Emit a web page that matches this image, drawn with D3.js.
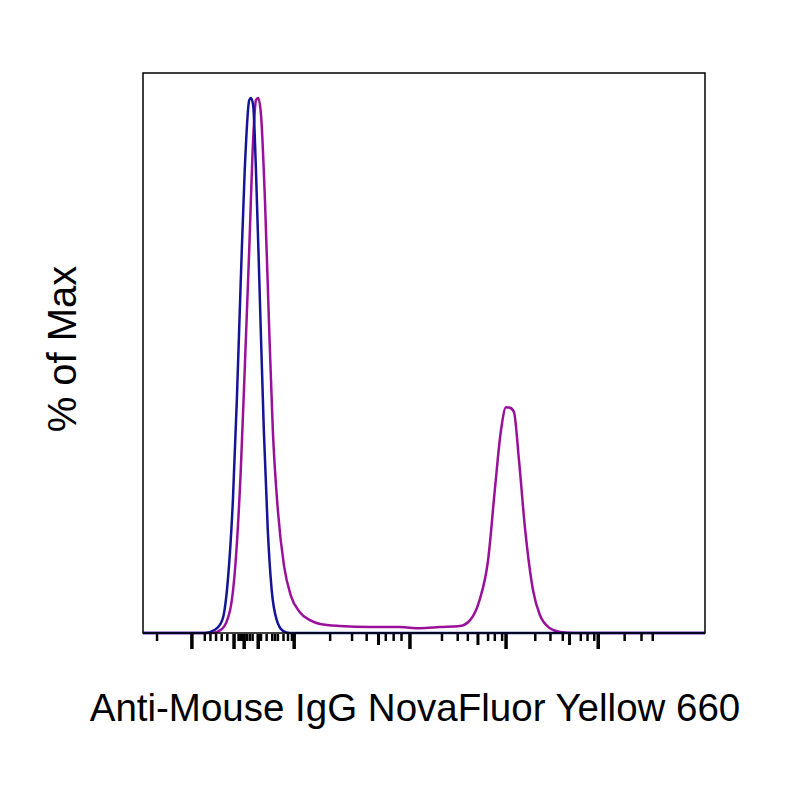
<!DOCTYPE html>
<html><head><meta charset="utf-8">
<script src="https://cdn.jsdelivr.net/npm/d3@7"></script>
<style>body{margin:0;background:#fff}</style>
</head><body><svg id="c" width="800" height="800"></svg>
<script>
// channel units 0..1000, y in % of max
const isotypeX = [0,110,128,141,151,160,167,174,181,189,192,196,201,208,215,222,229,238,249,261,1000];
const isotypeY = [0,0,0.6,2.4,9.9,24.9,43.6,66,86.5,99.6,100,98.7,86.5,62.2,37.9,19.3,8,2.4,0.4,0,0];
const stainedX = [0,123,140,155,165,174,181,189,196,201,205,210,217,224,231,240,251,263,279,297,315,350,404,457,493,528,564,582,599,614,626,637,646,653,660,669,680,694,706,724,742,768,1000];
const stainedY = [0,0,0.7,4.3,13.6,30.5,49.2,71.6,92.2,99.6,100,96.8,80.9,58.5,37.9,22.9,12.5,7,3.9,2.4,1.7,1.3,1.1,1.1,0.9,1.1,1.3,2.4,6.2,13.6,26.7,37.9,42.2,42.1,41.3,32.3,19.3,8,3.4,0.9,0.2,0,0];
const majorTicks = [87,162,180,205,269,475,646,810];
const midTicks = [419,596,759];
const minorTicks = [25,110,120,130,140,150,170,173,176,185,190,195,210,220,230,235,240,250,258,265,333,372,398,432,446,460,532,560,578,614,626,639,698,725,747,779,791,803,857,887,907];

const svg = d3.select('#c');
const x = d3.scaleLinear().domain([0, 1000]).range([143, 705]);
const y = d3.scaleLinear().domain([0, 100]).range([633, 98]);

const line = d3.line().curve(d3.curveMonotoneX).x(d => x(d[0])).y(d => y(d[1]));
const mk = (xs, ys) => xs.map((v, i) => [v, ys[i]]);

svg.append('path').datum(mk(stainedX, stainedY)).attr('d', line)
  .attr('fill', 'none').attr('stroke', '#9b109b').attr('stroke-width', 2.5);
svg.append('path').datum(mk(isotypeX, isotypeY)).attr('d', line)
  .attr('fill', 'none').attr('stroke', '#141496').attr('stroke-width', 2.5);

svg.append('rect').attr('x', 143).attr('y', 73).attr('width', 562).attr('height', 560)
  .attr('fill', 'none').attr('stroke', '#000').attr('stroke-width', 1.5);

const tick = (arr, len, w) => svg.append('g').selectAll('line').data(arr).join('line')
  .attr('x1', d => x(d)).attr('x2', d => x(d))
  .attr('y1', 634).attr('y2', 634 + len)
  .attr('stroke', '#000').attr('stroke-width', w);
tick(majorTicks, 15, 3.5);
tick(midTicks, 11, 3);
tick(minorTicks, 7, 2.5);

svg.append('text').attr('x', 415).attr('y', 721).attr('text-anchor', 'middle')
  .attr('font-family', 'Liberation Sans, Arial').attr('font-size', 38.5)
  .text('Anti-Mouse IgG NovaFluor Yellow 660');
svg.append('text').attr('transform', 'translate(76,349) rotate(-90)').attr('text-anchor', 'middle')
  .attr('font-family', 'Liberation Sans, Arial').attr('font-size', 40)
  .text('% of Max');
</script></body></html>
